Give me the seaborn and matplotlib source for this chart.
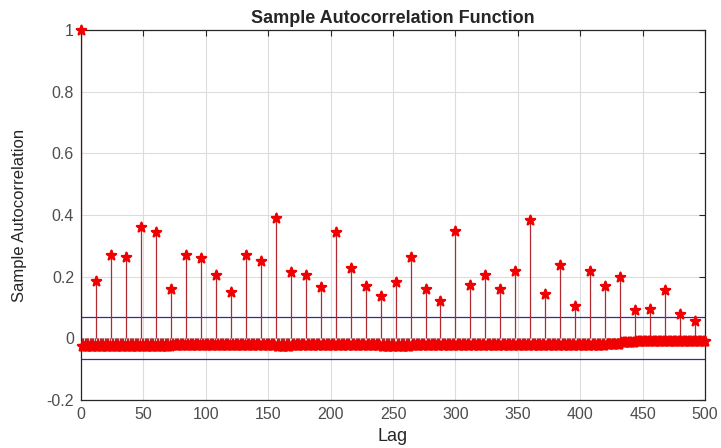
import numpy as np
import pandas as pd
import matplotlib
matplotlib.use("Agg")
import matplotlib.pyplot as plt
import seaborn as sns

# seasonal lags (every 12)
seasonal_lags = list(range(12, 493, 12))
seasonal_acf = [0.187, 0.271, 0.264, 0.362, 0.344, 0.159, 0.271, 0.260, 0.204, 0.152,
                0.271, 0.251, 0.390, 0.215, 0.204, 0.166, 0.344, 0.229, 0.170, 0.138,
                0.184, 0.264, 0.159, 0.121, 0.348, 0.173, 0.207, 0.159, 0.218, 0.383,
                0.145, 0.239, 0.106, 0.218, 0.170, 0.198, 0.093, 0.096, 0.156, 0.079,
                0.058]

# level of the small negative lags between spikes, one per 12-lag block
block_level = [-0.026, -0.026, -0.026, -0.026, -0.026, -0.026,
               -0.023, -0.023, -0.023, -0.023, -0.023, -0.023, -0.023,
               -0.026,
               -0.023, -0.023, -0.023, -0.023, -0.023, -0.023,
               -0.026, -0.026,
               -0.023, -0.023, -0.023, -0.023, -0.023, -0.023, -0.023,
               -0.023, -0.023, -0.023, -0.023, -0.023, -0.023,
               -0.018, -0.012, -0.009, -0.008, -0.008, -0.007, -0.007]

conf_bound = 0.068
max_lag = 500

lags = np.arange(max_lag + 1)
acf = np.array([block_level[min((l - 1) // 12, len(block_level) - 1)] for l in lags])
acf[0] = 1.0
acf[seasonal_lags] = seasonal_acf
df = pd.DataFrame({"Lag": lags, "acf": acf})

sns.set_theme(style="white")
plt.rcParams["font.family"] = ["Liberation Sans", "DejaVu Sans"]

fig = plt.figure(figsize=(7.21, 4.48), dpi=100)
ax = fig.add_axes([0.1123, 0.107, 0.8657, 0.826])

ax.vlines(df["Lag"], 0, df["acf"], color="#b02a30", linewidth=0.9, zorder=2)
sns.scatterplot(data=df, x="Lag", y="acf", marker="*", s=50, color="#f00000",
                edgecolor="#f00000", linewidth=1.6, ax=ax, zorder=3, legend=False,
                clip_on=False)
ax.axhline(conf_bound, color="#2b2bb0", linewidth=0.9, zorder=1)
ax.axhline(-conf_bound, color="#2b2bb0", linewidth=0.9, zorder=1)

ax.set_xlim(0, 500)
ax.set_ylim(-0.2, 1)
ax.set_xticks(np.arange(0, 501, 50))
ax.set_yticks([-0.2, 0, 0.2, 0.4, 0.6, 0.8, 1])
ax.set_yticklabels(["-0.2", "0", "0.2", "0.4", "0.6", "0.8", "1"])
ax.grid(True, color="#dcdcdc", linewidth=0.8)
ax.set_axisbelow(True)
ax.tick_params(direction="in", length=4, top=True, right=True, labelsize=11.5,
               labelcolor="#4d4d4d", color="#262626", width=0.8, pad=5)
for sp in ax.spines.values():
    sp.set_color("#262626")
    sp.set_linewidth(0.9)

ax.set_title("Sample Autocorrelation Function", fontsize=13, fontweight="bold", pad=5)
ax.set_xlabel("Lag", fontsize=13, color="#262626", labelpad=4)
ax.set_ylabel("Sample Autocorrelation", fontsize=12, color="#262626", labelpad=14)

fig.savefig("out.png", dpi=100)
